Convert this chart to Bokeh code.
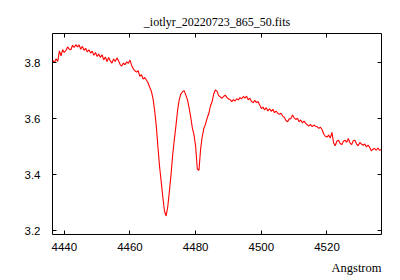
from bokeh.plotting import figure
from bokeh.models import Range1d, FixedTicker, LinearAxis, Title
from bokeh.embed import file_html
from bokeh.resources import INLINE

wavelength = [
    4436.5, 4437.0, 4437.5, 4438.0, 4438.5, 4439.0, 4439.5, 4440.0, 4440.5, 4441.0,
    4441.5, 4442.0, 4442.5, 4443.0, 4443.5, 4444.0, 4444.5, 4445.0, 4445.5, 4446.0,
    4446.5, 4447.0, 4447.5, 4448.0, 4448.5, 4449.0, 4449.5, 4450.0, 4450.5, 4451.0,
    4451.5, 4452.0, 4452.5, 4453.0, 4453.5, 4454.0, 4454.5, 4455.0, 4455.5, 4456.0,
    4456.5, 4457.0, 4457.5, 4458.0, 4458.5, 4459.0, 4459.5, 4460.0, 4460.5, 4461.0,
    4461.5, 4462.0, 4462.5, 4463.0, 4463.5, 4464.0, 4464.5, 4465.0, 4465.5, 4466.0,
    4466.5, 4467.0, 4467.5, 4468.0, 4468.5, 4469.0, 4469.5, 4470.0, 4470.5, 4471.0,
    4471.5, 4472.0, 4472.5, 4473.0, 4473.5, 4474.0, 4474.5, 4475.0, 4475.5, 4476.0,
    4476.5, 4477.0, 4477.5, 4478.0, 4478.5, 4479.0, 4479.5, 4480.0, 4480.5, 4481.0,
    4481.5, 4482.0, 4482.5, 4483.0, 4483.5, 4484.0, 4484.5, 4485.0, 4485.5, 4486.0,
    4486.5, 4487.0, 4487.5, 4488.0, 4488.5, 4489.0, 4489.5, 4490.0, 4490.5, 4491.0,
    4491.5, 4492.0, 4492.5, 4493.0, 4493.5, 4494.0, 4494.5, 4495.0, 4495.5, 4496.0,
    4496.5, 4497.0, 4497.5, 4498.0, 4498.5, 4499.0, 4499.5, 4500.0, 4500.5, 4501.0,
    4501.5, 4502.0, 4502.5, 4503.0, 4503.5, 4504.0, 4504.5, 4505.0, 4505.5, 4506.0,
    4506.5, 4507.0, 4507.5, 4508.0, 4508.5, 4509.0, 4509.5, 4510.0, 4510.5, 4511.0,
    4511.5, 4512.0, 4512.5, 4513.0, 4513.5, 4514.0, 4514.5, 4515.0, 4515.5, 4516.0,
    4516.5, 4517.0, 4517.5, 4518.0, 4518.5, 4519.0, 4519.5, 4520.0, 4520.5, 4521.0,
    4521.5, 4522.0, 4522.5, 4523.0, 4523.5, 4524.0, 4524.5, 4525.0, 4525.5, 4526.0,
    4526.5, 4527.0, 4527.5, 4528.0, 4528.5, 4529.0, 4529.5, 4530.0, 4530.5, 4531.0,
    4531.5, 4532.0, 4532.5, 4533.0, 4533.5, 4534.0, 4534.5, 4535.0, 4535.5, 4536.0,
    4536.5,
]

flux = [
    3.808, 3.800, 3.814, 3.804, 3.842, 3.824, 3.846, 3.836, 3.844, 3.856,
    3.848, 3.846, 3.862, 3.854, 3.864, 3.856, 3.863, 3.848, 3.858, 3.844,
    3.851, 3.838, 3.846, 3.834, 3.841, 3.826, 3.836, 3.822, 3.831, 3.818,
    3.828, 3.810, 3.820, 3.804, 3.818, 3.806, 3.798, 3.813, 3.804, 3.817,
    3.807, 3.793, 3.788, 3.799, 3.792, 3.803, 3.797, 3.809, 3.790, 3.778,
    3.771, 3.766, 3.771, 3.751, 3.757, 3.741, 3.747, 3.738, 3.728, 3.712,
    3.698, 3.672, 3.630, 3.575, 3.500, 3.430, 3.375, 3.320, 3.270, 3.252,
    3.285, 3.340, 3.400, 3.470, 3.525, 3.575, 3.630, 3.668, 3.688, 3.696,
    3.700, 3.684, 3.668, 3.638, 3.605, 3.566, 3.542, 3.500, 3.420, 3.415,
    3.490, 3.535, 3.565, 3.580, 3.602, 3.618, 3.645, 3.660, 3.688, 3.702,
    3.698, 3.682, 3.678, 3.672, 3.679, 3.684, 3.676, 3.670, 3.668, 3.661,
    3.668, 3.663, 3.671, 3.667, 3.675, 3.671, 3.679, 3.673, 3.680, 3.667,
    3.673, 3.661, 3.657, 3.665, 3.657, 3.661, 3.649, 3.636, 3.641, 3.631,
    3.639, 3.627, 3.635, 3.626, 3.633, 3.621, 3.627, 3.619, 3.615, 3.619,
    3.609, 3.605, 3.593, 3.589, 3.599, 3.600, 3.613, 3.603, 3.597, 3.601,
    3.589, 3.595, 3.585, 3.591, 3.583, 3.578, 3.573, 3.579, 3.571, 3.577,
    3.573, 3.571, 3.565, 3.569, 3.561, 3.545, 3.537, 3.534, 3.541, 3.531,
    3.551, 3.514, 3.503, 3.519, 3.523, 3.511, 3.507, 3.519, 3.523, 3.515,
    3.529, 3.513, 3.507, 3.521, 3.523, 3.509, 3.503, 3.515, 3.509, 3.505,
    3.509, 3.499, 3.505, 3.497, 3.485, 3.491, 3.493, 3.487, 3.495, 3.487,
    3.490,
]

x_ticks = [4440, 4460, 4480, 4500, 4520]
y_ticks = [3.2, 3.4, 3.6, 3.8]
title_text = "_iotlyr_20220723_865_50.fits"
x_label = "Angstrom"

assert len(wavelength) == len(flux)

p = figure(width=400, height=280, output_backend="svg", toolbar_location=None,
           x_range=Range1d(4436.4, 4536.6), y_range=Range1d(3.186, 3.904),
           min_border_left=52, min_border_right=19, min_border_top=33,
           min_border_bottom=46)
p.background_fill_color = "white"
p.border_fill_color = "white"
p.outline_line_color = "black"
p.outline_line_width = 1
p.outline_line_alpha = 1
p.grid.visible = False

p.title.text = title_text
p.title.align = "center"
p.title.text_font = "Liberation Serif"
p.title.text_font_size = "12px"
p.title.text_font_style = "normal"
p.title.text_color = "black"

p.line(wavelength, flux, line_color="#ff0000", line_width=1.1)

def style_axis(ax, labels=True):
    ax.axis_line_color = None
    ax.major_tick_in = 4
    ax.major_tick_out = 0
    ax.minor_tick_line_color = None
    ax.major_tick_line_color = "black"
    ax.major_label_text_font = "Liberation Sans"
    ax.major_label_text_font_size = "11.5px"
    ax.major_label_text_color = "black"
    if not labels:
        ax.major_label_text_color = None
        ax.major_label_standoff = 0

p.xaxis.ticker = FixedTicker(ticks=x_ticks)
p.yaxis.ticker = FixedTicker(ticks=y_ticks)
style_axis(p.xaxis[0])
style_axis(p.yaxis[0])
p.xaxis.major_label_standoff = 8
p.yaxis.major_label_standoff = 12

top_axis = LinearAxis(ticker=FixedTicker(ticks=x_ticks))
style_axis(top_axis, labels=False)
p.add_layout(top_axis, "above")
right_axis = LinearAxis(ticker=FixedTicker(ticks=y_ticks))
style_axis(right_axis, labels=False)
p.add_layout(right_axis, "right")

p.add_layout(Title(text=x_label, align="right", text_font="Liberation Serif",
                   text_font_size="12.5px", text_font_style="normal",
                   text_color="black"), "below")

open("out.html", "w").write(file_html(p, INLINE))
